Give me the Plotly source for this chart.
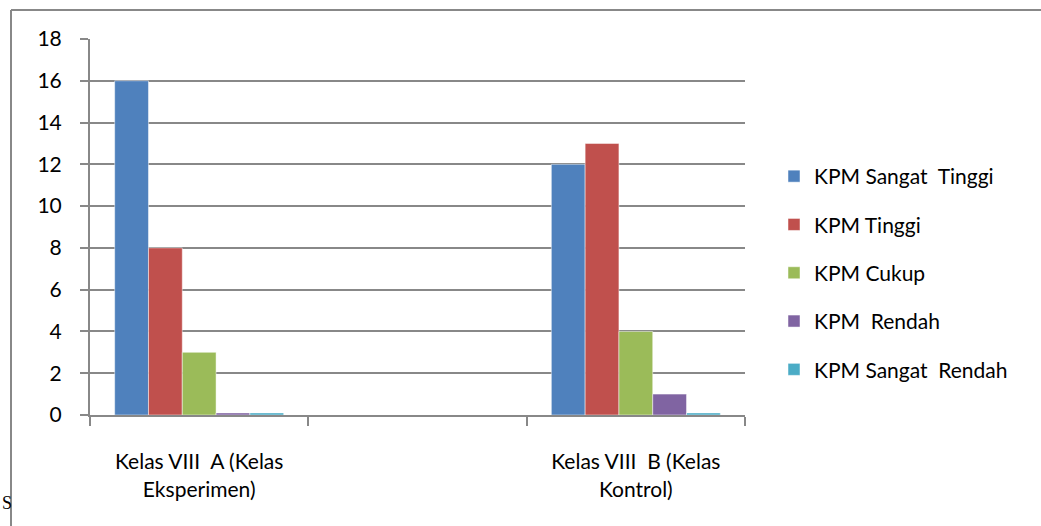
import plotly.graph_objects as go

categories = ["Kelas VIII  A (Kelas<br>Eksperimen)", " ", "Kelas VIII  B (Kelas<br>Kontrol)"]
series_names = ["KPM Sangat  Tinggi", "KPM Tinggi", "KPM Cukup", "KPM  Rendah", "KPM Sangat  Rendah"]
series_values = [
    [16, None, 12],
    [8, None, 13],
    [3, None, 4],
    [0.1, None, 1],
    [0.1, None, 0.1],
]
colors = ["#4F81BD", "#C0504D", "#9BBB59", "#8064A2", "#4BACC6"]
y_ticks = [0, 2, 4, 6, 8, 10, 12, 14, 16, 18]

W, H = 1041, 526
L, R, T, B = 90, 745, 39, 415
font = "Lato, 'Open Sans', sans-serif"

fig = go.Figure()
for name, vals, c in zip(series_names, series_values, colors):
    fig.add_trace(go.Bar(
        x=categories, y=vals, name=name, legendgroup=name,
        marker=dict(color=c, line=dict(color="rgba(255,255,255,0.6)", width=0.8)),
    ))

def px_to_paper_x(px):
    return (px - L) / (R - L)

def px_to_paper_y(py):
    return (B - py) / (B - T)

fig.update_layout(
    width=W, height=H,
    margin=dict(l=L, r=W - R, t=T, b=H - B, pad=0),
    paper_bgcolor="white", plot_bgcolor="white",
    barmode="group", bargap=0.226, bargroupgap=0,
    font=dict(family=font, size=21, color="black"),
    showlegend=True,
    legend=dict(
        x=px_to_paper_x(774), y=px_to_paper_y(156), xanchor="left", yanchor="top",
        font=dict(size=21), tracegroupgap=18, itemwidth=30,
        bgcolor="rgba(0,0,0,0)",
    ),
    xaxis=dict(
        type="category", tickson="boundaries", ticks="outside", ticklen=9,
        tickcolor="#888", tickwidth=2, showline=True, linecolor="#888", linewidth=2,
        showgrid=False, ticklabelstandoff=27, tickfont=dict(size=21),
    ),
    yaxis=dict(
        range=[0, 18], tickvals=y_ticks, ticks="outside", ticklen=8,
        tickcolor="#888", tickwidth=2, showline=True, linecolor="#888", linewidth=2,
        showgrid=True, gridcolor="#888", gridwidth=2, zeroline=False,
        ticklabelstandoff=14, tickfont=dict(size=21),
    ),
    shapes=[
        dict(type="line", xref="paper", yref="paper",
             x0=px_to_paper_x(11), x1=px_to_paper_x(11),
             y0=px_to_paper_y(10), y1=px_to_paper_y(540),
             line=dict(color="#888", width=2)),
        dict(type="line", xref="paper", yref="paper",
             x0=px_to_paper_x(11), x1=px_to_paper_x(1050),
             y0=px_to_paper_y(10), y1=px_to_paper_y(10),
             line=dict(color="#888", width=2)),
    ],
    annotations=[
        dict(text="S", xref="paper", yref="paper", x=px_to_paper_x(0), y=px_to_paper_y(503),
             xanchor="left", yanchor="middle", showarrow=False,
             font=dict(family="Liberation Serif", size=18, color="black")),
    ],
)

fig.write_html("out.html")
